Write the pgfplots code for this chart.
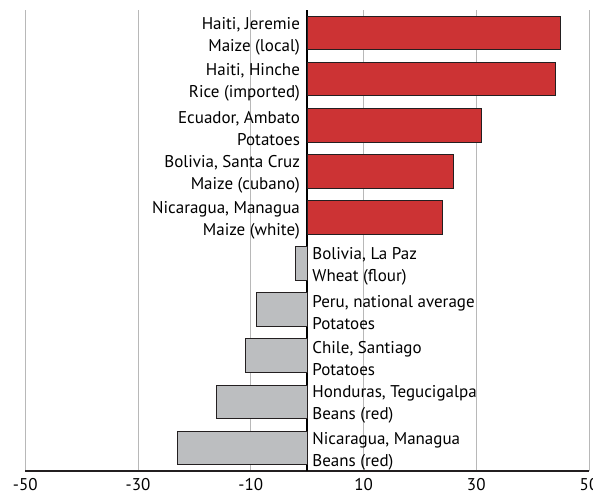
\documentclass[border=0pt]{standalone}
\usepackage{fontspec}
\setmainfont{PT Sans}
\usepackage{pgfplots}
\pgfplotsset{compat=1.18}
\definecolor{barred}{RGB}{204,51,52}
\definecolor{bargray}{RGB}{188,190,192}
\definecolor{edge}{RGB}{35,31,32}
\pgfplotstableread{
y v
9 45
8 44
7 31
6 26
5 24
}\pos
\pgfplotstableread{
y v
4 -2
3 -9
2 -11
1 -16
0 -23
}\neg
\newcommand{\lf}{\fontsize{17bp}{22bp}\selectfont}
\begin{document}
\begin{tikzpicture}
\begin{axis}[name=ax, scale only axis, width=563.7bp, height=461bp,
  xmin=-50, xmax=50, ymin=-0.5, ymax=9.5,
  axis x line=bottom, axis y line=none,
  x axis line style={-, line width=1.6bp, draw=edge},
  xtick={-50,-30,-10,10,30,50}, xticklabels={-50,-30,-10,10,30,50},
  ytick=\empty,
  major tick length=0pt,
  xmajorgrids, grid style={black!28, line width=0.8bp},
  extra x ticks={0}, extra x tick labels={},
  extra x tick style={grid style={black, line width=1.5bp}},
  xticklabel style={font=\lf, yshift=-3.5bp},
  clip=false,
  xbar, bar width=0.73, bar shift=0pt,
]
\addplot[fill=barred, draw=edge, line width=1bp] table[x=v, y=y] {\pos};
\addplot[fill=bargray, draw=edge, line width=1bp] table[x=v, y=y] {\neg};
\begin{scope}[every node/.style={font=\lf, inner sep=0pt, yshift=-3bp}]
\node[anchor=east, align=right] at (axis cs:-1.25,9) {Haiti, Jeremie\\Maize (local)};
\node[anchor=east, align=right] at (axis cs:-1.25,8) {Haiti, Hinche\\Rice (imported)};
\node[anchor=east, align=right] at (axis cs:-1.25,7) {Ecuador, Ambato\\Potatoes};
\node[anchor=east, align=right] at (axis cs:-1.25,6) {Bolivia, Santa Cruz\\Maize (cubano)};
\node[anchor=east, align=right] at (axis cs:-1.25,5) {Nicaragua, Managua\\Maize (white)};
\node[anchor=west, align=left] at (axis cs:0.9,4) {Bolivia, La Paz\\Wheat (flour)};
\node[anchor=west, align=left] at (axis cs:0.9,3) {Peru, national average\\Potatoes};
\node[anchor=west, align=left] at (axis cs:0.9,2) {Chile, Santiago\\Potatoes};
\node[anchor=west, align=left] at (axis cs:0.9,1) {Honduras, Tegucigalpa\\Beans (red)};
\node[anchor=west, align=left] at (axis cs:0.9,0) {Nicaragua, Managua\\Beans (red)};
\end{scope}
\end{axis}
\pgfresetboundingbox
\path[use as bounding box] ([xshift=-25.3bp,yshift=-24bp]ax.south west) rectangle ++(593bp,495bp);
\end{tikzpicture}
\end{document}
